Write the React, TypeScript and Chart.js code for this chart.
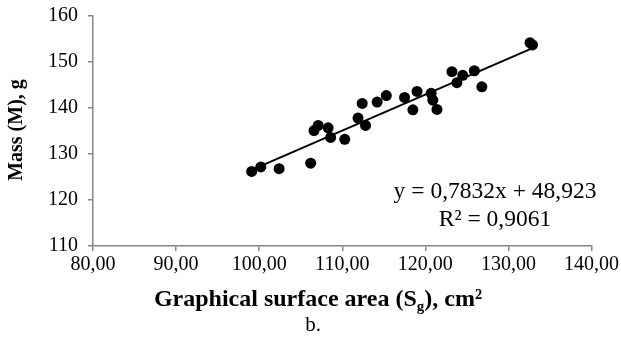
import React, { useEffect, useRef } from "react";
import { Chart, registerables } from "chart.js";

Chart.register(...registerables);

const surfaceArea: number[] = [
  99.1, 100.2, 102.4, 106.2, 106.6, 107.1, 108.3, 108.6, 110.3, 112.4, 111.9, 112.8, 114.2,
  115.3, 117.5, 118.5, 119.0, 120.7, 120.9, 121.4, 123.2, 123.8, 124.5, 125.9, 126.8, 132.6, 132.9,
];
const mass: number[] = [
  126.2, 127.2, 126.8, 128.0, 135.1, 136.2, 135.7, 133.6, 133.2, 141.0, 137.8, 136.2, 141.3,
  142.7, 142.3, 139.6, 143.6, 143.2, 141.7, 139.7, 147.9, 145.5, 147.1, 148.1, 144.6, 154.2, 153.7,
];
const slope = 0.7832;
const intercept = 48.923;
const equationLabel = "y = 0,7832x + 48,923";
const r2Label = "R² = 0,9061";
const yTitle = "Mass (M), g";
const xTitleParts = ["Graphical surface area (S", "g", "), cm²"];
const caption = "b.";

const FONT = '"Liberation Serif", "Times New Roman", serif';

const fmt = (v: number) => v.toFixed(2).replace(".", ",");

export default function App() {
  const ref = useRef<HTMLCanvasElement | null>(null);
  useEffect(() => {
    document.body.style.margin = "0";
    const canvas = ref.current!;
    const xs = surfaceArea;
    const minX = Math.min(...xs);
    const maxX = Math.max(...xs);
    const points = xs.map((x, i) => ({ x, y: mass[i] }));
    const trend = [
      { x: minX, y: slope * minX + intercept },
      { x: maxX, y: slope * maxX + intercept },
    ];
    const textPlugin = {
      id: "texts",
      afterDraw(chart: any) {
        const ctx = chart.ctx as CanvasRenderingContext2D;
        ctx.save();
        ctx.fillStyle = "#000";
        ctx.textBaseline = "alphabetic";
        // equation
        ctx.font = `23.5px ${FONT}`;
        ctx.textAlign = "center";
        const ex = 495;
        ctx.fillText(equationLabel, ex, 198);
        ctx.fillText(r2Label, ex, 226);
        // x title with subscript
        const big = `bold 24px ${FONT}`;
        const small = `bold 15px ${FONT}`;
        ctx.textAlign = "left";
        ctx.font = big;
        const w0 = ctx.measureText(xTitleParts[0]).width;
        const w2 = ctx.measureText(xTitleParts[2]).width;
        ctx.font = small;
        const w1 = ctx.measureText(xTitleParts[1]).width;
        const total = w0 + w1 + w2;
        let x = 318 - total / 2;
        const base = 306;
        ctx.font = big;
        ctx.fillText(xTitleParts[0], x, base);
        x += w0;
        ctx.font = small;
        ctx.fillText(xTitleParts[1], x, base + 5);
        x += w1;
        ctx.font = big;
        ctx.fillText(xTitleParts[2], x, base);
        // caption
        ctx.font = `21px ${FONT}`;
        ctx.textAlign = "center";
        ctx.fillText(caption, 313, 331);
        // y title
        ctx.translate(17, 130);
        ctx.rotate(-Math.PI / 2);
        ctx.font = `bold 20px ${FONT}`;
        ctx.textAlign = "center";
        ctx.textBaseline = "middle";
        ctx.fillText(yTitle, 0, 0);
        ctx.restore();
      },
    };
    const chart = new Chart(canvas, {
      type: "scatter",
      data: {
        datasets: [
          {
            type: "line",
            data: trend,
            borderColor: "#000",
            borderWidth: 2,
            pointRadius: 0,
            showLine: true,
            fill: false,
          } as any,
          {
            data: points,
            backgroundColor: "#000",
            borderColor: "#000",
            pointRadius: 5.5,
            pointBorderWidth: 0,
          },
        ],
      },
      options: {
        animation: false,
        responsive: false,
        events: [],
        layout: { padding: { top: 16, right: 28, left: 0, bottom: 0 } },
        plugins: { legend: { display: false }, tooltip: { enabled: false } },
        scales: {
          x: {
            type: "linear",
            min: 80,
            max: 140,
            afterFit: (s: any) => {
              s.height = 100;
            },
            ticks: {
              stepSize: 10,
              callback: (v: any) => fmt(Number(v)),
              font: { family: FONT, size: 20 },
              color: "#000",
              padding: 2,
              maxRotation: 0,
            },
            grid: {
              display: true,
              drawOnChartArea: false,
              drawTicks: true,
              tickLength: 5,
              color: "#868686",
              lineWidth: 1.5,
            },
            border: { display: true, color: "#868686", width: 1.5 },
          },
          y: {
            type: "linear",
            min: 110,
            max: 160,
            afterFit: (s: any) => {
              s.width = 93;
              s.paddingTop = 0;
              s.paddingBottom = 0;
            },
            ticks: {
              stepSize: 10,
              font: { family: FONT, size: 20, lineHeight: 0.8 },
              color: "#000",
              padding: 10,
            },
            grid: {
              display: true,
              drawOnChartArea: false,
              drawTicks: true,
              tickLength: 5,
              color: "#868686",
              lineWidth: 1.5,
            },
            border: { display: true, color: "#868686", width: 1.5 },
          },
        },
      },
      plugins: [textPlugin],
    });
    return () => chart.destroy();
  }, []);
  return (
    <div style={{ position: "relative", width: 621, height: 346, background: "#fff" }}>
      <canvas ref={ref} width={621} height={346} style={{ display: "block" }} />
    </div>
  );
}
